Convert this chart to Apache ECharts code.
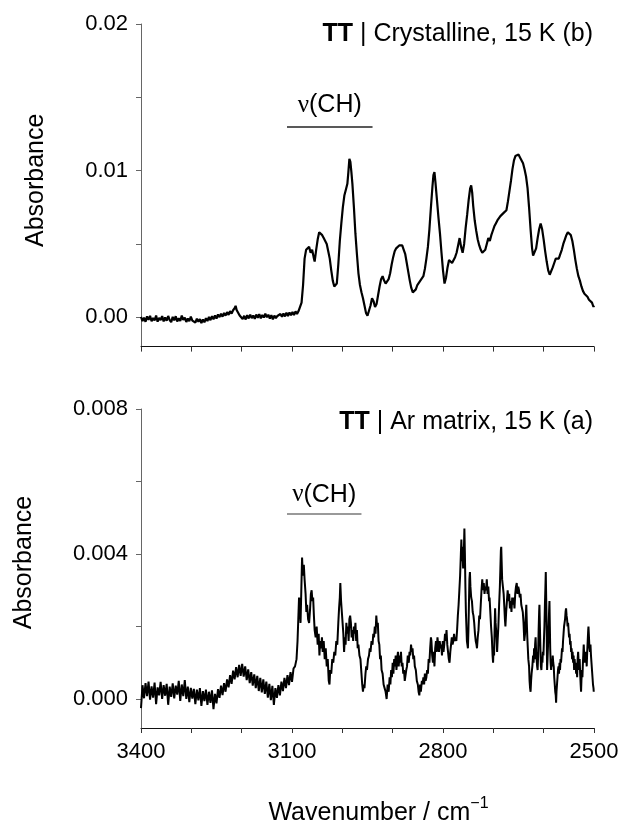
<!DOCTYPE html>
<html><head><meta charset="utf-8">
<script src="https://cdn.jsdelivr.net/npm/echarts@6/dist/echarts.min.js"></script>
<style>html,body{margin:0;padding:0;background:#fff}#c{width:623px;height:827px}</style>
</head><body><div id="c"></div>
<script>
// ---- axis ticks / labels ----
const xTicks = [3400, 3300, 3200, 3100, 3000, 2900, 2800, 2700, 2600, 2500];
const xLabels = [3400, 3100, 2800, 2500];
const topYTicks = [0, 0.005, 0.01, 0.015, 0.02];
const topYLabels = [0, 0.01, 0.02];
const botYTicks = [0, 0.002, 0.004, 0.006, 0.008];
const botYLabels = [0, 0.004, 0.008];
const panelTitles = ['{b|TT} | Crystalline, 15 K (b)', '{b|TT} | Ar matrix, 15 K (a)'];
const bandLabel = '{nu|ν}(CH)';
const topBand = [[3110, 0.0130], [2940, 0.0130]];
const botBand = [[3110, 0.0051], [2962, 0.0051]];

// ---- crystalline spectrum (b): [wavenumber, absorbance] ----
const crystBaseline = [[3400,0.00002],[3397,-0.00026],[3394,-0.00002],[3391,-0.00031],[3388,0.00006],[3385,-0.00018],[3382,0.0001],[3379,-0.00027],[3376,-0.00005],[3373,-0.00022],[3370,0.00012],[3367,-0.0003],[3364,-0.00004],[3361,-0.0002],[3358,0.00008],[3355,-0.00028],[3352,-0.00001],[3349,-0.00024],[3346,0.00009],[3343,-0.00019],[3340,-0.00033],[3337,0.00003],[3334,-0.00021],[3331,0.00007],[3328,-0.00029],[3325,-0.00006],[3322,-0.00025],[3319,0.00011],[3316,-0.00018],[3313,-0.00002],[3310,-0.00032],[3307,-0.00008],[3304,-0.00027],[3301,0.00004],[3298,-0.00023],[3295,-0.00011],[3292,-0.00036],[3289,-0.00009],[3286,-0.00031],[3283,-0.00012],[3280,-0.0004],[3277,-0.00015],[3274,-0.00034],[3271,-0.00006],[3268,-0.00026],[3265,0.00002],[3262,-0.0002],[3259,0.00008],[3256,-0.00014],[3253,0.00012],[3250,-0.00009],[3247,0.00019],[3244,0.00001],[3241,0.00024],[3238,0.00004],[3235,0.00029],[3232,0.00011],[3229,0.00035],[3226,0.00016],[3223,0.00042],[3220,0.00025],[3217,0.00048],[3214,0.00062],[3212,0.00078],[3210,0.0005],[3207,0.00041],[3204,0.00012],[3201,0.00021],[3198,-0.00012],[3195,0.0001],[3192,-0.00015],[3189,0.00014],[3186,-0.00008],[3183,0.00018],[3180,-0.00006],[3177,0.00012],[3174,-0.00011],[3171,0.00019],[3168,-0.00003],[3165,0.00021],[3162,-0.00007],[3159,0.00016],[3156,-0.00002],[3153,0.00024],[3150,0],[3147,0.00017],[3144,-0.00009],[3141,0.00014],[3138,-0.00014],[3135,0.00011],[3132,-0.00006],[3129,0.00009],[3126,-0.00001],[3123,0.00022],[3120,0.00003],[3117,0.00026],[3114,0.00006],[3111,0.00031],[3108,0.00009],[3105,0.00033],[3102,0.00014],[3099,0.00036],[3096,0.00015],[3093,0.0004],[3090,0.00022],[3087,0.00042]];
const crystBands = [[3084,0.0005],[3081,0.001],[3078,0.0022],[3075,0.004],[3072,0.0046],[3069,0.0045],[3066,0.0048],[3063,0.0044],[3060,0.0046],[3057,0.0041],[3055,0.0038],[3052,0.0046],[3049,0.0053],[3046,0.0058],[3043,0.0058],[3040,0.0056],[3037,0.0054],[3034,0.0052],[3031,0.005],[3028,0.0045],[3025,0.004],[3022,0.0032],[3019,0.0025],[3016,0.0021],[3013,0.002],[3011,0.0023],[3008,0.0036],[3005,0.0052],[3002,0.0064],[2999,0.0075],[2996,0.0083],[2993,0.0087],[2990,0.0091],[2988,0.0099],[2986,0.0108],[2984,0.0106],[2982,0.0099],[2980,0.0091],[2977,0.0075],[2974,0.0057],[2971,0.0043],[2968,0.003],[2965,0.0022],[2962,0.0017],[2959,0.0013],[2956,0.0008],[2953,0.0003],[2950,0.0001],[2947,0.0002],[2944,0.0008],[2941,0.0013],[2938,0.0011],[2935,0.0007],[2932,0.0009],[2929,0.0015],[2926,0.0021],[2923,0.0026],[2920,0.0028],[2917,0.0025],[2914,0.0023],[2911,0.0024],[2908,0.0026],[2905,0.003],[2902,0.0036],[2899,0.0041],[2896,0.0045],[2893,0.0047],[2890,0.0048],[2887,0.0049],[2884,0.0048],[2881,0.0049],[2878,0.0046],[2875,0.0043],[2872,0.0037],[2869,0.0031],[2866,0.0025],[2863,0.002],[2860,0.0017],[2857,0.0016],[2854,0.0019],[2851,0.0022],[2848,0.0023],[2845,0.0025],[2842,0.0026],[2839,0.0028],[2836,0.0033],[2833,0.004],[2830,0.0048],[2827,0.006],[2824,0.0075],[2821,0.0089],[2819,0.0097],[2817,0.0099],[2815,0.0092],[2812,0.008],[2809,0.0068],[2806,0.0057],[2803,0.0044],[2800,0.0032],[2797,0.0023],[2794,0.0027],[2791,0.0034],[2788,0.0039],[2785,0.004],[2782,0.0037],[2779,0.0036],[2776,0.0041],[2773,0.0044],[2770,0.0049],[2767,0.0054],[2764,0.0048],[2761,0.0044],[2758,0.005],[2755,0.0061],[2752,0.007],[2749,0.008],[2746,0.0088],[2744,0.009],[2742,0.0085],[2740,0.0076],[2737,0.0066],[2734,0.0059],[2731,0.0053],[2728,0.0049],[2725,0.0046],[2722,0.0044],[2719,0.0043],[2716,0.0046],[2713,0.005],[2710,0.0054],[2707,0.0052],[2704,0.0056],[2701,0.0059],[2698,0.0062],[2695,0.0064],[2692,0.0066],[2689,0.0067],[2686,0.0069],[2683,0.007],[2680,0.0071],[2677,0.0072],[2674,0.0073],[2671,0.0079],[2668,0.0086],[2665,0.0093],[2662,0.0101],[2659,0.0107],[2656,0.011],[2653,0.0109],[2650,0.0111],[2647,0.0109],[2644,0.0108],[2641,0.0105],[2638,0.0101],[2635,0.0096],[2632,0.0088],[2629,0.0075],[2626,0.006],[2623,0.0047],[2621,0.0042],[2618,0.0043],[2615,0.0047],[2612,0.0054],[2609,0.006],[2606,0.0064],[2603,0.006],[2600,0.0053],[2597,0.0045],[2594,0.0038],[2591,0.0032],[2588,0.0029],[2585,0.003],[2582,0.0034],[2579,0.0037],[2576,0.004],[2573,0.0039],[2570,0.004],[2567,0.0043],[2564,0.0046],[2561,0.005],[2558,0.0053],[2555,0.0056],[2552,0.0058],[2549,0.0057],[2546,0.0056],[2543,0.0052],[2540,0.0046],[2537,0.0039],[2534,0.0033],[2531,0.0028],[2528,0.0025],[2525,0.0021],[2522,0.0018],[2519,0.0016],[2516,0.0015],[2513,0.0014],[2510,0.0012],[2507,0.0013],[2504,0.001],[2501,0.0007],[2500,0.0008]];

// ---- Ar matrix spectrum (a): [wavenumber, absorbance] ----
const matrixBaseline = [[3400,-0.00025],[3397,0.00038],[3394,0.00002],[3391,0.00044],[3388,0.00008],[3385,0.00048],[3382,-0.00002],[3379,0.00035],[3376,0.00004],[3373,0.00045],[3370,-0.00014],[3367,0.00032],[3364,0.0001],[3361,0.00047],[3358,0],[3355,0.00038],[3352,0.00009],[3349,0.00042],[3346,-0.00016],[3343,0.00034],[3340,0.00006],[3337,0.00043],[3334,0.00002],[3331,0.00037],[3328,0.00012],[3325,0.0005],[3322,-0.00005],[3319,0.0004],[3316,0.00008],[3313,0.00052],[3310,0],[3307,0.00034],[3304,-0.00009],[3301,0.00031],[3298,0.00001],[3295,0.00028],[3292,-0.00014],[3289,0.00026],[3286,-0.00004],[3283,0.0003],[3280,-0.00019],[3277,0.00022],[3274,-0.00006],[3271,0.00026],[3268,-0.00016],[3265,0.0002],[3262,-0.00011],[3259,0.00024],[3256,-0.00028],[3253,0.00014],[3250,-0.00012],[3247,0.00027],[3244,0.00003],[3241,0.00037],[3238,0.00011],[3235,0.00044],[3232,0.0002],[3229,0.00054],[3226,0.00032],[3223,0.00066],[3220,0.00042],[3217,0.00078],[3214,0.00054],[3211,0.00088],[3208,0.0006],[3205,0.00094],[3202,0.00064],[3199,0.00097],[3196,0.00062],[3193,0.0009],[3190,0.00052],[3187,0.00082],[3184,0.00044],[3181,0.00074],[3178,0.00037],[3175,0.00068],[3172,0.0003],[3169,0.00064],[3166,0.00022],[3163,0.00058],[3160,0.00018],[3157,0.00054],[3154,0.00014],[3151,0.00048],[3148,0.00004],[3145,0.00042],[3142,-0.00003],[3139,0.00036],[3136,-0.00016],[3133,0.0003],[3130,0.00003],[3127,0.00038],[3124,0.0001],[3121,0.00048],[3118,0.00022],[3115,0.00058],[3112,0.0003],[3109,0.00066],[3106,0.00038],[3103,0.00074],[3100,0.00047],[3097,0.00084],[3094,0.0009],[3091,0.0011]];
const matrixBands = [[3089,0.0016],[3087.5,0.0022],[3086,0.0028],[3084.5,0.0025],[3083,0.0021],[3081.5,0.003],[3080,0.0039],[3079,0.0036],[3078,0.0034],[3076.5,0.0037],[3075,0.0033],[3073,0.0029],[3071.5,0.0024],[3070,0.0026],[3068,0.0022],[3066,0.0021],[3064,0.0025],[3062.5,0.0029],[3061,0.003],[3059.5,0.0027],[3058,0.0028],[3056.5,0.0023],[3055,0.0019],[3053,0.0017],[3051,0.002],[3049,0.0015],[3047,0.0018],[3045.5,0.0012],[3044,0.0016],[3042,0.0014],[3040.5,0.0017],[3039,0.0013],[3037,0.0016],[3035,0.0011],[3033,0.0014],[3031,0.0009],[3029,0.0011],[3027,0.0005],[3025.5,0.0004],[3024,0.0008],[3022,0.0007],[3020,0.0011],[3018,0.001],[3016,0.0013],[3014,0.0012],[3012,0.0016],[3010,0.0015],[3008,0.0021],[3006.5,0.0025],[3005,0.0028],[3004,0.0032],[3002.5,0.0027],[3001,0.0024],[2999.5,0.0021],[2998,0.0018],[2996.5,0.0013],[2995,0.0017],[2993.5,0.0015],[2992,0.0021],[2990.5,0.0018],[2989,0.002],[2987.5,0.0016],[2986,0.0022],[2984.5,0.0023],[2983,0.0021],[2981.5,0.0017],[2980,0.0019],[2978.5,0.0016],[2977,0.002],[2975.5,0.0018],[2974,0.0021],[2972.5,0.0016],[2971,0.0019],[2969.5,0.0014],[2968,0.0015],[2966,0.0012],[2964,0.0011],[2962,0.0007],[2960.5,0.0004],[2959,0.0002],[2957.5,0.0004],[2956,0.0003],[2954,0.0007],[2952.5,0.0009],[2951,0.0008],[2949,0.0011],[2947,0.0012],[2945.5,0.0014],[2944,0.0013],[2942,0.0016],[2940,0.0015],[2938.5,0.0018],[2937,0.0017],[2935.5,0.002],[2934,0.0018],[2932.5,0.0023],[2931,0.002],[2929.5,0.0021],[2928,0.0016],[2926.5,0.0015],[2925,0.0011],[2923.5,0.0012],[2922,0.0008],[2920,0.0007],[2918,0.0004],[2916,0.0003],[2914,0.0002],[2912,0],[2910,0.0004],[2908,0.0002],[2906,0.0006],[2904.5,0.0004],[2903,0.0008],[2901.5,0.0006],[2900,0.001],[2898.5,0.0007],[2897,0.0011],[2895.5,0.0009],[2894,0.0012],[2892.5,0.0008],[2891,0.0011],[2889.5,0.0013],[2888,0.0009],[2886.5,0.0012],[2885,0.001],[2883.5,0.0013],[2882,0.0009],[2880.5,0.001],[2879,0.0007],[2877.5,0.0008],[2876,0.0005],[2874.5,0.0005],[2873,0.0008],[2871.5,0.0009],[2870,0.0012],[2868,0.001],[2866.5,0.0013],[2865,0.0012],[2863.5,0.0015],[2862,0.0013],[2860.5,0.0014],[2859,0.0011],[2857.5,0.0012],[2856,0.0009],[2854,0.0008],[2852,0.0005],[2850,0.0004],[2848.5,0.0002],[2847,0.0001],[2845.5,0.0004],[2844,0.0002],[2842,0.0005],[2840.5,0.0004],[2839,0.0006],[2837.5,0.0004],[2836,0.0007],[2834.5,0.0005],[2833,0.0006],[2831.5,0.0008],[2830,0.0007],[2828.5,0.0011],[2827,0.001],[2825.5,0.0014],[2824,0.0017],[2823,0.0016],[2821.5,0.0012],[2820,0.001],[2818.5,0.0013],[2817,0.0009],[2815.5,0.0014],[2814,0.0016],[2812.5,0.0013],[2811,0.0017],[2809.5,0.0015],[2808,0.0013],[2806.5,0.0016],[2805,0.0014],[2803.5,0.0015],[2802,0.0012],[2800.5,0.0016],[2799,0.0013],[2797.5,0.0015],[2796,0.0018],[2794.5,0.0016],[2793,0.0019],[2791.5,0.0015],[2790,0.0013],[2788.5,0.0011],[2787,0.001],[2785.5,0.0013],[2784,0.0015],[2782.5,0.0017],[2781,0.0015],[2779.5,0.0016],[2778,0.0018],[2776.5,0.0016],[2775,0.0017],[2773.5,0.0016],[2772,0.0019],[2770.5,0.0023],[2769,0.0026],[2767.5,0.003],[2766,0.0034],[2764.5,0.004],[2763.5,0.0044],[2762.5,0.0038],[2761.5,0.0042],[2760,0.0036],[2758.5,0.0041],[2757.5,0.0047],[2756.5,0.004],[2755.5,0.0031],[2754.5,0.0024],[2753.5,0.002],[2752.5,0.0016],[2751.5,0.0015],[2750.5,0.0014],[2749.5,0.0019],[2748.5,0.0026],[2747.5,0.0033],[2746.5,0.0035],[2745.5,0.0031],[2744,0.0028],[2742.5,0.0027],[2741,0.0024],[2739.5,0.0023],[2738,0.0021],[2736.5,0.0018],[2735,0.0016],[2733.5,0.0015],[2732.5,0.0014],[2731,0.0017],[2729.5,0.0019],[2728,0.0023],[2726.5,0.0022],[2725,0.0026],[2723.5,0.003],[2722,0.0033],[2720.5,0.003],[2719,0.0032],[2717.5,0.0029],[2716,0.0031],[2714.5,0.003],[2713,0.0033],[2711.5,0.0029],[2710,0.0031],[2708.5,0.0027],[2707.5,0.0028],[2706,0.0024],[2704.5,0.002],[2703,0.0017],[2701.5,0.0012],[2700.5,0.001],[2699.5,0.0014],[2698.5,0.0012],[2697.5,0.0019],[2696.5,0.0025],[2695.5,0.0021],[2694,0.0018],[2692.5,0.0013],[2691.5,0.0016],[2690,0.002],[2688.5,0.0026],[2687,0.0031],[2686,0.0036],[2685,0.0041],[2684.3,0.0042],[2683.5,0.0038],[2682.5,0.0033],[2681,0.0031],[2679.5,0.0029],[2678,0.0025],[2677,0.0022],[2676,0.002],[2674.5,0.0024],[2673,0.0027],[2671.5,0.003],[2670,0.0027],[2668.5,0.0029],[2667,0.0025],[2665.5,0.0027],[2664,0.0024],[2662.5,0.0028],[2661,0.0026],[2659.5,0.0028],[2658,0.0025],[2656.5,0.0029],[2655,0.0031],[2653.5,0.0032],[2652,0.0029],[2650.5,0.0031],[2649,0.003],[2647.5,0.0028],[2646,0.0029],[2644.5,0.0026],[2643,0.0026],[2641.5,0.0024],[2640,0.0021],[2638.5,0.0016],[2637,0.0018],[2635.5,0.0023],[2634.5,0.0026],[2633.5,0.0021],[2632.5,0.0017],[2631.5,0.0014],[2630.5,0.0011],[2629,0.0009],[2628,0.0005],[2627,0.0003],[2626,0.0002],[2625,0.0005],[2624,0.0007],[2622.5,0.0009],[2621,0.0012],[2620,0.001],[2619,0.0014],[2618,0.0011],[2617,0.0015],[2616,0.0017],[2615,0.0013],[2614,0.0011],[2613,0.0009],[2612,0.0008],[2611,0.0012],[2610,0.0019],[2609,0.0024],[2608.4,0.0026],[2607.5,0.002],[2606.5,0.0014],[2605.5,0.0009],[2604.5,0.0008],[2603.5,0.0011],[2602.5,0.001],[2601.5,0.0013],[2600.5,0.0012],[2599.5,0.0016],[2598.5,0.002],[2597.5,0.0026],[2596.5,0.0031],[2595.8,0.0035],[2595,0.0028],[2594,0.0019],[2593.2,0.0008],[2592.3,0.0011],[2591.3,0.0015],[2590.3,0.0019],[2589.3,0.0024],[2588.5,0.0027],[2587.7,0.002],[2587,0.0014],[2586.2,0.001],[2585.2,0.0008],[2584,0.0011],[2583,0.0009],[2582,0.0012],[2581,0.001],[2580,0.0009],[2579,0.0006],[2578,0.0004],[2577,0.0002],[2576,0.0001],[2575.3,-0.0001],[2574.5,0.0002],[2573.5,0.0004],[2572.5,0.0006],[2571.5,0.0008],[2570.5,0.0009],[2569.5,0.0007],[2568.5,0.001],[2567.5,0.0008],[2566.5,0.0011],[2565.5,0.001],[2564.5,0.0012],[2563.5,0.0014],[2562.5,0.0013],[2561.5,0.0016],[2560.5,0.0018],[2559.5,0.002],[2558.5,0.0021],[2557.5,0.0022],[2556.5,0.0024],[2555.5,0.0025],[2554.5,0.0023],[2553.5,0.0022],[2552.5,0.002],[2551.5,0.0021],[2550.5,0.0019],[2549.5,0.0017],[2548.5,0.0018],[2547.5,0.0015],[2546.5,0.0016],[2545.5,0.0013],[2544.5,0.0014],[2543.5,0.0011],[2542.5,0.0013],[2541.5,0.001],[2540.5,0.0012],[2539.5,0.0008],[2538.5,0.0011],[2537.5,0.0009],[2536.5,0.001],[2535.5,0.0007],[2534.5,0.0009],[2533.5,0.0006],[2532.5,0.0011],[2531.5,0.0013],[2530.5,0.001],[2529.5,0.0008],[2528.5,0.0011],[2527.5,0.0007],[2526.5,0.0004],[2525.7,0.0002],[2525,0.0005],[2524,0.0008],[2523,0.0006],[2522,0.001],[2521,0.0013],[2520.4,0.0015],[2519.5,0.0012],[2518.5,0.001],[2517.5,0.0013],[2516.5,0.0011],[2515.5,0.0012],[2514.5,0.0009],[2513.5,0.0013],[2512.5,0.0016],[2511.5,0.0019],[2511,0.002],[2510,0.0017],[2509,0.0014],[2508,0.0013],[2507,0.0015],[2506,0.0012],[2505,0.001],[2504,0.0008],[2503,0.0006],[2502,0.0004],[2501,0.0003],[2500.5,0.0002]];

const crystalline = crystBaseline.concat(crystBands);
const matrix = matrixBaseline.concat(matrixBands);

const FONT = 'Liberation Sans, Arial, sans-serif';
const chart = echarts.init(document.getElementById('c'), null, {renderer: 'canvas'});

function xAxisCfg(gridIndex, showLabels) {
  return {
    type: 'value', gridIndex, min: 2500, max: 3400, inverse: true,
    axisLine: {show: true, onZero: false, lineStyle: {color: '#111', width: 1}},
    axisTick: {show: true, customValues: xTicks, length: 5, lineStyle: {color: '#333'}},
    axisLabel: {show: showLabels, customValues: xLabels, margin: 13, color: '#000', fontSize: 22, fontFamily: FONT,
      formatter: v => String(v)},
    splitLine: {show: false},
    name: showLabels ? '{a|Wavenumber / cm}{s|−1}' : '',
    nameLocation: 'middle', nameGap: 68,
    nameTextStyle: {
      fontFamily: FONT, color: '#000', padding: [0, 0, 0, 22],
      rich: {
        a: {fontSize: 25, fontFamily: FONT, color: '#000', lineHeight: 30, verticalAlign: 'bottom'},
        s: {fontSize: 16, fontFamily: FONT, color: '#000', lineHeight: 16, verticalAlign: 'top'}
      }
    }
  };
}
function yAxisCfg(gridIndex, min, max, ticks, labels, decimals, gap, pad) {
  return {
    type: 'value', gridIndex, min, max,
    axisLine: {show: true, onZero: false, lineStyle: {color: '#666', width: 1}},
    axisTick: {show: true, customValues: ticks, length: 5, lineStyle: {color: '#666'}},
    axisLabel: {customValues: labels, margin: 13, color: '#000', fontSize: 22, fontFamily: FONT,
      formatter: v => v.toFixed(decimals)},
    splitLine: {show: false},
    name: 'Absorbance', nameLocation: 'middle', nameRotate: 90, nameGap: gap,
    nameTextStyle: {fontSize: 25, fontFamily: FONT, color: '#000', padding: pad}
  };
}
const richTitle = {
  fontSize: 25, fontFamily: FONT, color: '#000', fontWeight: 'normal',
  rich: {b: {fontSize: 25, fontFamily: FONT, fontWeight: 'bold', color: '#000'}}
};
function bandMark(coords, color, dist) {
  return {
    silent: true, symbol: ['none', 'none'], animation: false,
    lineStyle: {color, width: 1.5, type: 'solid'},
    label: {show: true, position: 'middle', distance: dist, formatter: bandLabel,
      fontSize: 25, fontFamily: FONT, color: '#000',
      rich: {nu: {fontSize: 25, fontFamily: 'Liberation Serif, Times New Roman, serif', color: '#000'}}},
    data: [[{coord: coords[0]}, {coord: coords[1]}]]
  };
}

chart.setOption({
  backgroundColor: '#fff',
  animation: false,
  title: [
    {text: panelTitles[0], right: 30, top: 22, padding: 0, textStyle: richTitle},
    {text: panelTitles[1], right: 30, top: 410, padding: 0, textStyle: richTitle}
  ],
  grid: [
    {left: 141, top: 24, width: 453, height: 322.6},
    {left: 141, top: 409, width: 453, height: 321.2}
  ],
  xAxis: [xAxisCfg(0, false), xAxisCfg(1, true)],
  yAxis: [
    yAxisCfg(0, -0.002, 0.02, topYTicks, topYLabels, 2, 92, [0, 0, 0, 10]),
    yAxisCfg(1, -0.0008, 0.008, botYTicks, botYLabels, 3, 104, [0, 0, 0, 12])
  ],
  series: [
    {type: 'line', xAxisIndex: 0, yAxisIndex: 0, data: crystalline, showSymbol: false,
      lineStyle: {color: '#000', width: 2.2}, itemStyle: {color: '#000'}, silent: true,
      markLine: bandMark(topBand, '#222', 9)},
    {type: 'line', xAxisIndex: 1, yAxisIndex: 1, data: matrix, showSymbol: false,
      lineStyle: {color: '#000', width: 2}, itemStyle: {color: '#000'}, silent: true,
      markLine: bandMark(botBand, '#777', 7)}
  ]
});
</script></body></html>
